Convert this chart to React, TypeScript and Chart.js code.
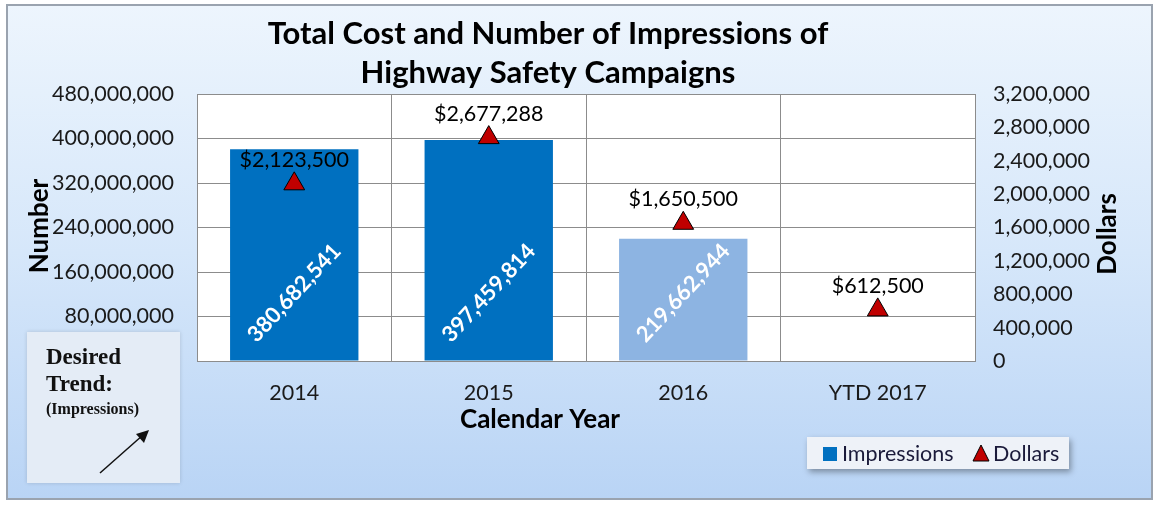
import React, { useEffect, useRef } from 'react';
import { Chart, registerables } from 'chart.js';

Chart.register(...registerables);

const categories = ['2014', '2015', '2016', 'YTD 2017'];
const impressions: (number | null)[] = [380682541, 397459814, 219662944, null];
const dollars = [2123500, 2677288, 1650500, 612500];
const barColors = ['#0070C0', '#0070C0', '#8DB4E2', '#8DB4E2'];
const titleLines = ['Total Cost and Number of Impressions of', 'Highway Safety Campaigns'];
const leftAxisTitle = 'Number';
const rightAxisTitle = 'Dollars';
const xAxisTitle = 'Calendar Year';
const seriesNames = ['Impressions', 'Dollars'];
const leftMax = 480000000;
const leftStep = 80000000;
const rightMax = 3200000;
const rightStep = 400000;
const trendLines = ['Desired', 'Trend:', '(Impressions)'];

const FONT = 'Lato, "Open Sans", sans-serif';
const SERIF = '"Liberation Serif", "DejaVu Serif", serif';
const fmt = (n: number) => n.toLocaleString('en-US');

const decorPlugin = {
  id: 'decor',
  beforeDraw(chart: any) {
    const { ctx, width, height, chartArea } = chart;
    ctx.save();
    ctx.fillStyle = '#ffffff';
    ctx.fillRect(0, 0, width, height);
    const g = ctx.createLinearGradient(0, 5, 0, 499);
    g.addColorStop(0, '#EDF5FD');
    g.addColorStop(0.5, '#D6E7FA');
    g.addColorStop(1, '#B9D4F5');
    ctx.fillStyle = g;
    ctx.fillRect(7, 5, 1145, 494);
    ctx.strokeStyle = '#9AA3AF';
    ctx.lineWidth = 2;
    ctx.strokeRect(7, 5, 1145, 494);
    ctx.fillStyle = '#ffffff';
    ctx.fillRect(chartArea.left, chartArea.top, chartArea.right - chartArea.left, chartArea.bottom - chartArea.top);
    ctx.restore();
  },
  afterDraw(chart: any) {
    const { ctx, chartArea } = chart;
    ctx.save();
    // title
    ctx.fillStyle = '#000000';
    ctx.textAlign = 'center';
    ctx.textBaseline = 'middle';
    ctx.font = `bold 31px ${FONT}`;
    ctx.fillText(titleLines[0], 548, 34);
    ctx.fillText(titleLines[1], 548, 73);

    // axis titles
    ctx.font = `bold 26px ${FONT}`;
    ctx.save();
    ctx.translate(40, 226);
    ctx.rotate(-Math.PI / 2);
    ctx.fillText(leftAxisTitle, 0, 0);
    ctx.restore();
    ctx.save();
    ctx.translate(1108, 234);
    ctx.rotate(-Math.PI / 2);
    ctx.fillText(rightAxisTitle, 0, 0);
    ctx.restore();
    ctx.fillText(xAxisTitle, 540, 420);

    // bar value labels
    const barMeta = chart.getDatasetMeta(0);
    ctx.font = `bold 22px ${FONT}`;
    ctx.fillStyle = '#ffffff';
    barMeta.data.forEach((el: any, i: number) => {
      const v = impressions[i];
      if (v == null) return;
      ctx.save();
      ctx.translate(el.x, chartArea.bottom - 68);
      ctx.rotate((-47 * Math.PI) / 180);
      ctx.fillText(fmt(v), 0, 0);
      ctx.restore();
    });

    // dollar labels
    const lineMeta = chart.getDatasetMeta(1);
    ctx.font = `21.5px ${FONT}`;
    ctx.fillStyle = '#000000';
    lineMeta.data.forEach((el: any, i: number) => {
      ctx.fillText('$' + fmt(dollars[i]), el.x, el.y - 24);
    });

    // legend
    ctx.save();
    ctx.shadowColor = 'rgba(0,0,0,0.35)';
    ctx.shadowBlur = 6;
    ctx.shadowOffsetX = 2;
    ctx.shadowOffsetY = 3;
    ctx.fillStyle = '#EEF2F8';
    ctx.fillRect(807, 437, 262, 32);
    ctx.restore();
    ctx.fillStyle = '#0070C0';
    ctx.fillRect(823, 447, 14, 14);
    ctx.fillStyle = '#1a1a3a';
    ctx.textAlign = 'left';
    ctx.font = `21.5px ${FONT}`;
    ctx.fillText(seriesNames[0], 842, 454);
    ctx.beginPath();
    ctx.moveTo(981, 445);
    ctx.lineTo(989, 461);
    ctx.lineTo(973, 461);
    ctx.closePath();
    ctx.fillStyle = '#C00000';
    ctx.fill();
    ctx.strokeStyle = '#000';
    ctx.lineWidth = 1;
    ctx.stroke();
    ctx.fillStyle = '#1a1a3a';
    ctx.fillText(seriesNames[1], 993, 454);

    // desired trend box
    ctx.save();
    ctx.shadowColor = 'rgba(0,0,0,0.15)';
    ctx.shadowBlur = 4;
    ctx.fillStyle = '#E4ECF6';
    ctx.fillRect(27, 332, 153, 151);
    ctx.restore();
    ctx.fillStyle = '#111';
    ctx.font = `bold 23px ${SERIF}`;
    ctx.fillText(trendLines[0], 46, 358);
    ctx.fillText(trendLines[1], 46, 385);
    ctx.font = `bold 16px ${SERIF}`;
    ctx.fillText(trendLines[2], 46, 410);
    // arrow
    ctx.strokeStyle = '#111';
    ctx.lineWidth = 1.5;
    ctx.beginPath();
    ctx.moveTo(100, 473);
    ctx.lineTo(143, 435);
    ctx.stroke();
    ctx.beginPath();
    ctx.moveTo(149, 430);
    ctx.lineTo(136, 434);
    ctx.lineTo(144, 443);
    ctx.closePath();
    ctx.fillStyle = '#111';
    ctx.fill();

    ctx.restore();
  },
};

export default function App() {
  const ref = useRef<HTMLCanvasElement>(null);
  useEffect(() => {
    if (!ref.current) return;
    const chart = new Chart(ref.current, {
      type: 'bar',
      data: {
        labels: categories,
        datasets: [
          {
            type: 'bar',
            label: seriesNames[0],
            data: impressions,
            backgroundColor: barColors,
            yAxisID: 'y',
            categoryPercentage: 1,
            barPercentage: 0.66,
            order: 2,
          } as any,
          {
            type: 'line',
            label: seriesNames[1],
            data: dollars,
            yAxisID: 'y1',
            showLine: false,
            pointStyle: 'triangle',
            pointRadius: 12,
            pointBackgroundColor: '#C00000',
            pointBorderColor: '#000000',
            pointBorderWidth: 1,
            order: 1,
          } as any,
        ],
      },
      options: {
        animation: false,
        responsive: false,
        events: [],
        layout: { padding: { top: 94, left: 0, right: 0, bottom: 0 } },
        plugins: {
          legend: { display: false },
          title: { display: false },
          tooltip: { enabled: false },
        },
        scales: {
          x: {
            afterFit: (s: any) => { s.height = 144; },
            grid: { color: '#8C8C8C', drawTicks: false, offset: true },
            border: { color: '#8C8C8C' },
            ticks: { color: '#1a1a1a', font: { family: FONT, size: 21.5 }, padding: 19 },
          },
          y: {
            position: 'left',
            min: 0,
            max: leftMax,
            afterFit: (s: any) => { s.width = 197; },
            grid: { color: '#8C8C8C', drawTicks: false },
            border: { color: '#8C8C8C' },
            ticks: {
              stepSize: leftStep,
              color: '#1a1a1a',
              font: { family: FONT, size: 21.5 },
              padding: 23,
              callback: (v: any) => fmt(Number(v)),
            },
          },
          y1: {
            position: 'right',
            min: 0,
            max: rightMax,
            afterFit: (s: any) => { s.width = 179; },
            grid: { display: false, drawTicks: false },
            border: { color: '#8C8C8C' },
            ticks: {
              stepSize: rightStep,
              color: '#1a1a1a',
              font: { family: FONT, size: 21.5 },
              padding: 18,
              callback: (v: any) => fmt(Number(v)),
            },
          },
        },
      } as any,
      plugins: [decorPlugin],
    });
    return () => chart.destroy();
  }, []);
  return (
    <div style={{ position: 'absolute', left: 0, top: 0, width: 1154, height: 505 }}>
      <canvas ref={ref} width={1154} height={505} style={{ width: 1154, height: 505 }} />
    </div>
  );
}
